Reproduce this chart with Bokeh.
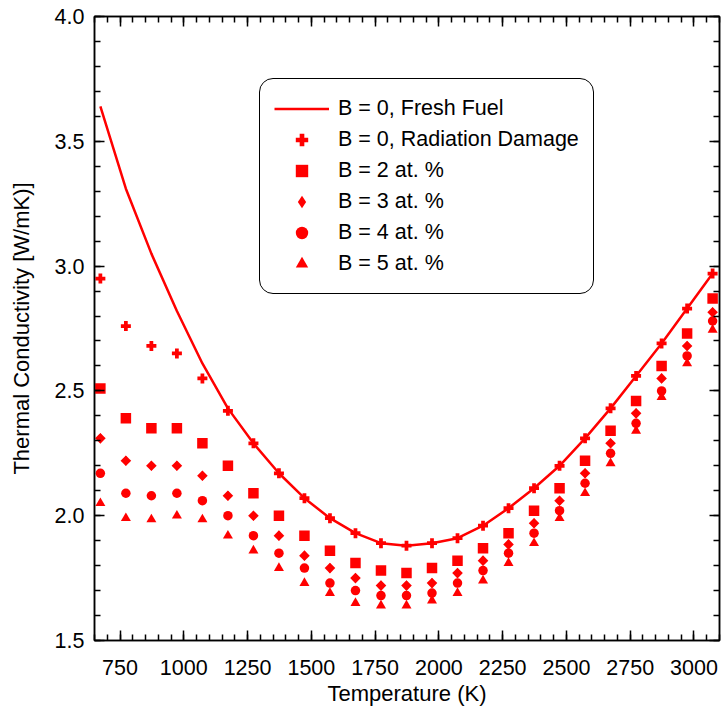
import numpy as np
from bokeh.plotting import figure
from bokeh.models import Legend, LegendItem, LinearAxis, FixedTicker, Range1d
from bokeh.embed import file_html
from bokeh.resources import INLINE

# ---- data ----
temps = [673, 773, 873, 973, 1073, 1173, 1273, 1373, 1473, 1573, 1673, 1773, 1873,
         1973, 2073, 2173, 2273, 2373, 2473, 2573, 2673, 2773, 2873, 2973, 3073]
fresh_fuel = [3.64, 3.31, 3.05, 2.82, 2.61, 2.43, 2.29, 2.17, 2.07, 1.99, 1.93, 1.89, 1.88,
              1.89, 1.91, 1.96, 2.03, 2.11, 2.20, 2.31, 2.43, 2.56, 2.69, 2.83, 2.97]
rad_damage = [2.95, 2.76, 2.68, 2.65, 2.55, 2.42, 2.29, 2.17, 2.07, 1.99, 1.93, 1.89, 1.88,
              1.89, 1.91, 1.96, 2.03, 2.11, 2.20, 2.31, 2.43, 2.56, 2.69, 2.83, 2.97]
b2 = [2.51, 2.39, 2.35, 2.35, 2.29, 2.20, 2.09, 2.00, 1.92, 1.86, 1.81, 1.78, 1.77,
      1.79, 1.82, 1.87, 1.93, 2.02, 2.11, 2.22, 2.34, 2.46, 2.60, 2.73, 2.87]
b3 = [2.31, 2.22, 2.20, 2.20, 2.16, 2.08, 2.00, 1.92, 1.84, 1.79, 1.75, 1.72, 1.72,
      1.73, 1.77, 1.82, 1.885, 1.97, 2.06, 2.17, 2.29, 2.41, 2.55, 2.68, 2.815]
b4 = [2.17, 2.09, 2.08, 2.09, 2.06, 2.00, 1.92, 1.85, 1.79, 1.73, 1.70, 1.68, 1.68,
      1.69, 1.73, 1.78, 1.85, 1.93, 2.02, 2.13, 2.25, 2.37, 2.50, 2.64, 2.78]
b5 = [2.05, 1.99, 1.985, 2.00, 1.985, 1.92, 1.86, 1.79, 1.73, 1.69, 1.65, 1.64, 1.64,
      1.66, 1.69, 1.74, 1.81, 1.89, 1.99, 2.09, 2.21, 2.34, 2.475, 2.61, 2.745]

x_ticks = [750, 1000, 1250, 1500, 1750, 2000, 2250, 2500, 2750, 3000]
x_minor = list(range(650, 3101, 50))
y_ticks = [1.5, 2.0, 2.5, 3.0, 3.5, 4.0]
y_tick_labels = ["1.5", "2.0", "2.5", "3.0", "3.5", "4.0"]
y_minor = [round(1.5 + 0.1 * i, 1) for i in range(26)]

legend_labels = ["B = 0, Fresh Fuel", "B = 0, Radiation Damage", "B = 2 at. %",
                 "B = 3 at. %", "B = 4 at. %", "B = 5 at. %"]

RED = "#ff0000"
FONT = "Liberation Sans"

p = figure(width=723, height=713, output_backend="svg", toolbar_location=None,
           x_range=Range1d(650, 3100), y_range=Range1d(1.5, 4.0),
           min_border_left=94, min_border_right=4, min_border_top=16,
           min_border_bottom=73)
p.grid.visible = False
p.outline_line_color = "black"
p.outline_line_width = 1.5
p.background_fill_color = "white"
p.border_fill_color = "white"

p.add_layout(LinearAxis(), "above")
p.add_layout(LinearAxis(), "right")

for ax in p.xaxis:
    ax.ticker = FixedTicker(ticks=x_ticks, minor_ticks=x_minor)
for ax in p.yaxis:
    ax.ticker = FixedTicker(ticks=y_ticks, minor_ticks=y_minor)
    ax.major_label_overrides = {t: l for t, l in zip(y_ticks, y_tick_labels)}

for ax in list(p.xaxis) + list(p.yaxis):
    ax.axis_line_color = "black"
    ax.axis_line_width = 1.5
    ax.major_tick_line_color = "black"
    ax.minor_tick_line_color = "black"
    ax.major_tick_line_width = 1.5
    ax.minor_tick_line_width = 1.5
    ax.major_tick_in = 10
    ax.major_tick_out = 0
    ax.minor_tick_in = 6
    ax.minor_tick_out = 0
    ax.major_label_text_font = FONT
    ax.major_label_text_font_size = "21.5px"
    ax.major_label_text_color = "black"
    ax.axis_label_text_font = FONT
    ax.axis_label_text_font_size = "22px"
    ax.axis_label_text_font_style = "normal"
    ax.axis_label_text_color = "black"

# hide labels on mirrored axes
for ax in [p.above[0], p.right[0]]:
    ax.major_label_text_font_size = "0px"
    ax.major_label_standoff = 0
    ax.axis_label = None

bx = p.below[0]
bx.axis_label = "Temperature (K)"
bx.major_label_standoff = 19
bx.axis_label_standoff = 3

ly = p.left[0]
ly.axis_label = "Thermal Conductivity [W/mK)]"
ly.major_label_standoff = 10
ly.axis_label_standoff = 18

r_line = p.line(temps, fresh_fuel, line_color=RED, line_width=2.5)
r_plus = p.scatter(temps, rad_damage, marker="plus", size=10, fill_color=RED, line_color=None)
r_sq = p.scatter(temps, b2, marker="square", size=10.5, fill_color=RED, line_color=None)
# B = 3 %: a 45-degree square gives the reference's diamond; the inner diamond
# marker (same points, fully covered) supplies the unrotated legend key
r_dia = p.scatter(temps, b3, marker="square", size=7.5, angle=np.pi / 4,
                  fill_color=RED, line_color=None)
r_dia_key = p.scatter(temps, b3, marker="diamond", size=10, fill_color=RED, line_color=None)
r_circ = p.scatter(temps, b4, marker="circle", size=9.5, fill_color=RED, line_color=None)
r_tri = p.scatter(temps, b5, marker="triangle", size=10, fill_color=RED, line_color=None)

renderers = [r_line, r_plus, r_sq, r_dia_key, r_circ, r_tri]
items = [LegendItem(label=l, renderers=[r]) for l, r in zip(legend_labels, renderers)]
legend = Legend(items=items, location=(165, 346))
legend.label_text_font = FONT
legend.label_text_font_size = "21.5px"
legend.label_text_color = "black"
legend.glyph_width = 55
legend.glyph_height = 31
legend.label_height = 31
legend.spacing = 0
legend.padding = 14
legend.margin = 0
legend.label_standoff = 9
legend.border_line_color = "black"
legend.border_line_width = 1.5
legend.border_line_alpha = 1.0
legend.background_fill_color = "white"
legend.background_fill_alpha = 1.0
if "border_radius" in legend.properties():
    legend.border_radius = 14
p.add_layout(legend, "center")

open("out.html", "w").write(file_html(p, INLINE))
